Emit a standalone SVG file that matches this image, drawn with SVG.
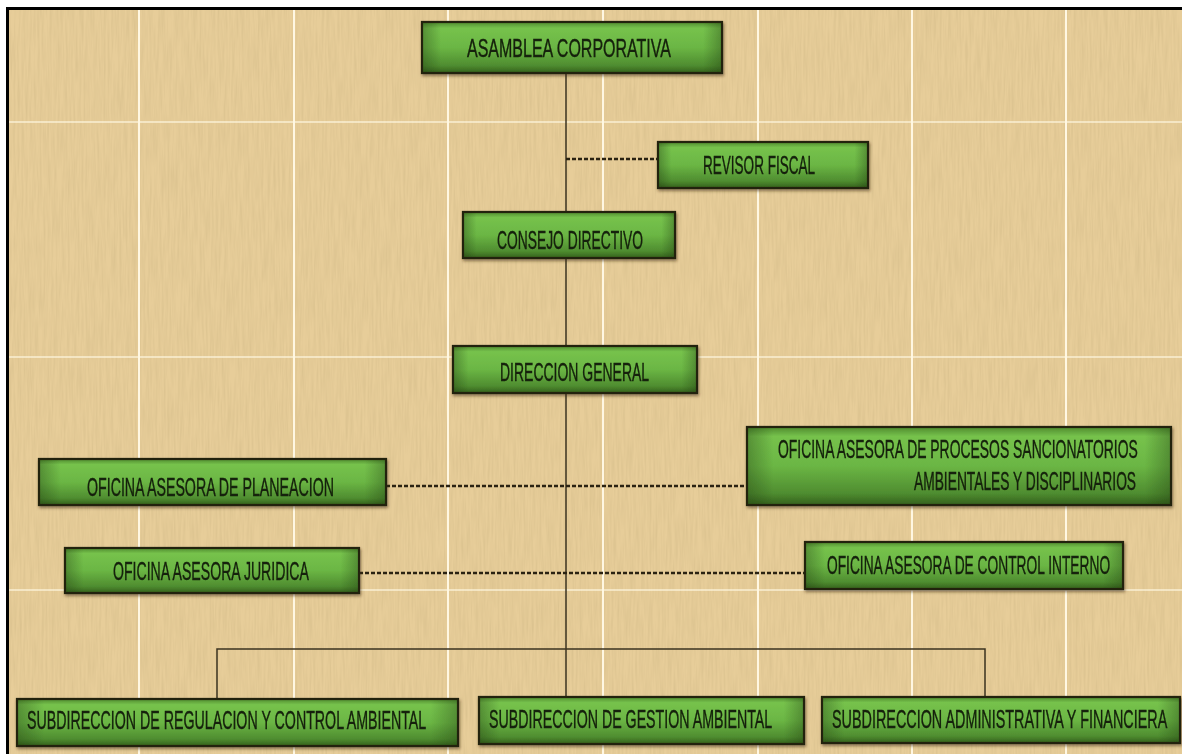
<svg xmlns="http://www.w3.org/2000/svg" width="1182" height="754" viewBox="0 0 1182 754">
  <defs>
    <linearGradient id="gBox" x1="0" y1="0" x2="0" y2="1">
      <stop offset="0" stop-color="#4f8a2e"/>
      <stop offset="0.12" stop-color="#76c24c"/>
      <stop offset="0.5" stop-color="#6bb644"/>
      <stop offset="0.85" stop-color="#4f8d30"/>
      <stop offset="1" stop-color="#34601c"/>
    </linearGradient>
    <linearGradient id="gSide" x1="0" y1="0" x2="1" y2="0">
      <stop offset="0" stop-color="#1f3a10" stop-opacity="0.35"/>
      <stop offset="0.06" stop-color="#1f3a10" stop-opacity="0"/>
      <stop offset="0.94" stop-color="#1f3a10" stop-opacity="0"/>
      <stop offset="1" stop-color="#1f3a10" stop-opacity="0.35"/>
    </linearGradient>
    <filter id="shadow" x="-5%" y="-20%" width="110%" height="150%">
      <feDropShadow dx="1" dy="2" stdDeviation="1.5" flood-color="#3a2a10" flood-opacity="0.55"/>
    </filter>
    <filter id="paper" x="0" y="0" width="100%" height="100%">
      <feTurbulence type="fractalNoise" baseFrequency="0.5 0.025" numOctaves="3" seed="4" result="n"/>
      <feColorMatrix in="n" type="matrix" values="0 0 0 0 0.55  0 0 0 0 0.42  0 0 0 0 0.2  0 0 0 0.55 -0.18"/>
    </filter>
    <style>
      .box { fill: url(#gBox); stroke: #24220d; stroke-width: 2.2; }
      .side { fill: url(#gSide); stroke: none; }
      .lbl { font-family: "Liberation Sans", Arial, sans-serif; fill: #13200a; stroke: #13200a; stroke-width: 0.4; font-size: 26px; }
      .solid { stroke: #3b3320; stroke-width: 1.5; fill: none; }
      .dash { stroke: #2a2212; stroke-width: 2.5; fill: none; stroke-dasharray: 4 2; }
      .grid { stroke: #fff7e2; fill: none; }
    </style>
  </defs>

  <!-- background -->
  <rect x="0" y="0" width="1182" height="754" fill="#ffffff"/>
  <rect x="7" y="8" width="1175" height="746" fill="#e7cd99"/>
  <rect x="7" y="8" width="1175" height="746" filter="url(#paper)"/>
  <g id="grid">
    <path class="grid" stroke-width="2" d="M139 9V754M294 9V754M448 9V754M603 9V754M758 9V754M912 9V754M1066 9V754"/>
    <path class="grid" stroke-width="1.5" opacity="0.8" d="M9 122H1182M9 357H1182M9 590H1182"/>
  </g>
  <path d="M7.5 754V8.5H1182" fill="none" stroke="#000" stroke-width="3"/>

  <!-- connectors -->
  <g id="connectors">
    <path class="solid" d="M566 73V212M566 258V346M566 393V649"/>
    <path class="solid" d="M217 699V649H985V697M566 649V697"/>
    <path class="dash" d="M566 159H658"/>
    <path class="dash" d="M386 486H747"/>
    <path class="dash" d="M359 573H805"/>
  </g>

  <g id="asamblea" filter="url(#shadow)">
    <rect class="box" x="422" y="22" width="300" height="51"/>
    <rect class="side" x="423" y="23" width="298" height="49"/>
    <text class="lbl" transform="translate(467 57) scale(0.606 1)" textLength="336.6" lengthAdjust="spacingAndGlyphs">ASAMBLEA CORPORATIVA</text>
  </g>
  <g id="revisor" filter="url(#shadow)">
    <rect class="box" x="658" y="142" width="210" height="46"/>
    <rect class="side" x="659" y="143" width="208" height="44"/>
    <text class="lbl" font-size="22" transform="translate(703 174) scale(0.615 1)" textLength="182.2" lengthAdjust="spacingAndGlyphs">REVISOR FISCAL</text>
  </g>
  <g id="consejo" filter="url(#shadow)">
    <rect class="box" x="463" y="212" width="212" height="46"/>
    <rect class="side" x="464" y="213" width="210" height="44"/>
    <text class="lbl" font-size="24" transform="translate(497 249) scale(0.576 1)" textLength="253.4" lengthAdjust="spacingAndGlyphs">CONSEJO DIRECTIVO</text>
  </g>
  <g id="direccion" filter="url(#shadow)">
    <rect class="box" x="453" y="346" width="244" height="47"/>
    <rect class="side" x="454" y="347" width="242" height="45"/>
    <text class="lbl" font-size="25" transform="translate(500 381) scale(0.559 1)" textLength="266.7" lengthAdjust="spacingAndGlyphs">DIRECCION GENERAL</text>
  </g>
  <g id="procesos" filter="url(#shadow)">
    <rect class="box" x="747" y="427" width="424" height="78"/>
    <rect class="side" x="748" y="428" width="422" height="76"/>
    <text class="lbl" font-size="23" transform="translate(778 458) scale(0.599 1)" textLength="600.7" lengthAdjust="spacingAndGlyphs">OFICINA ASESORA DE PROCESOS SANCIONATORIOS</text>
    <text class="lbl" font-size="23" transform="translate(914 490) scale(0.595 1)" textLength="373.2" lengthAdjust="spacingAndGlyphs">AMBIENTALES Y DISCIPLINARIOS</text>
  </g>
  <g id="planeacion" filter="url(#shadow)">
    <rect class="box" x="39" y="459" width="347" height="46"/>
    <rect class="side" x="40" y="460" width="345" height="44"/>
    <text class="lbl" transform="translate(87 496) scale(0.541 1)" textLength="456.6" lengthAdjust="spacingAndGlyphs">OFICINA ASESORA DE PLANEACION</text>
  </g>
  <g id="juridica" filter="url(#shadow)">
    <rect class="box" x="65" y="548" width="294" height="45"/>
    <rect class="side" x="66" y="549" width="292" height="43"/>
    <text class="lbl" transform="translate(113 580) scale(0.536 1)" textLength="365.5" lengthAdjust="spacingAndGlyphs">OFICINA ASESORA JURIDICA</text>
  </g>
  <g id="control" filter="url(#shadow)">
    <rect class="box" x="805" y="542" width="318" height="47"/>
    <rect class="side" x="806" y="543" width="316" height="45"/>
    <text class="lbl" transform="translate(827 574) scale(0.524 1)" textLength="540.3" lengthAdjust="spacingAndGlyphs">OFICINA ASESORA DE CONTROL INTERNO</text>
  </g>
  <g id="regulacion" filter="url(#shadow)">
    <rect class="box" x="17" y="699" width="441" height="47"/>
    <rect class="side" x="18" y="700" width="439" height="45"/>
    <text class="lbl" transform="translate(27 729) scale(0.543 1)" textLength="735.3" lengthAdjust="spacingAndGlyphs">SUBDIRECCION DE REGULACION Y CONTROL AMBIENTAL</text>
  </g>
  <g id="gestion" filter="url(#shadow)">
    <rect class="box" x="479" y="697" width="325" height="47"/>
    <rect class="side" x="480" y="698" width="323" height="45"/>
    <text class="lbl" transform="translate(489 728) scale(0.543 1)" textLength="521.5" lengthAdjust="spacingAndGlyphs">SUBDIRECCION DE GESTION AMBIENTAL</text>
  </g>
  <g id="administrativa" filter="url(#shadow)">
    <rect class="box" x="822" y="697" width="358" height="46"/>
    <rect class="side" x="823" y="698" width="356" height="44"/>
    <text class="lbl" transform="translate(832 728) scale(0.546 1)" textLength="614" lengthAdjust="spacingAndGlyphs">SUBDIRECCION ADMINISTRATIVA Y FINANCIERA</text>
  </g>
</svg>
